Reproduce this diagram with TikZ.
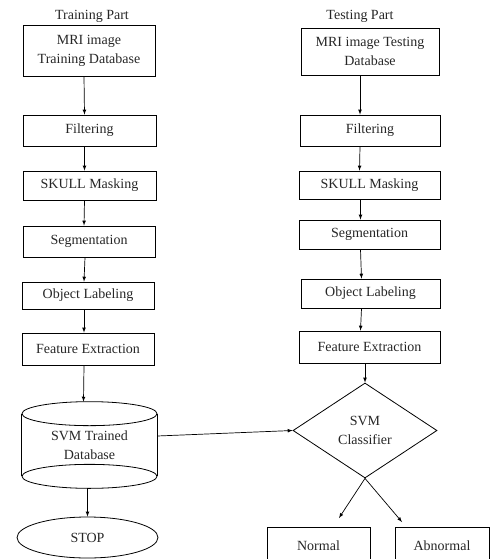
\documentclass[tikz,border=0pt]{standalone}
\usepackage{fontspec}
\setmainfont{Liberation Serif}
\usetikzlibrary{shapes.geometric}
\begin{document}
\begin{tikzpicture}[->,>=latex,x=1pt,y=-1pt,line width=0.7pt,font=\fontsize{14}{19}\selectfont,text=black!85]
\tikzset{Box/.style = {draw,-,rectangle,line width=0.8pt,inner sep=0pt,align=center}}
\useasboundingbox (0,0) rectangle (490,559);
% training part
\node(tp) at (92,16) {Training Part};
\node[Box,minimum width=132,minimum height=51](mri1) at (89,50.5) {MRI image\\Training Database};
\node[Box,minimum width=133,minimum height=31](fil1) at (89.5,130.5) {Filtering};
\node[Box,minimum width=133,minimum height=29](sku1) at (89.5,185.5) {SKULL Masking};
\node[Box,minimum width=132,minimum height=31](seg1) at (89,241.5) {Segmentation};
\node[Box,minimum width=132,minimum height=27](obj1) at (88,295.5) {Object Labeling};
\node[Box,minimum width=132,minimum height=32](fea1) at (88,349) {Feature Extraction};
\node[align=center,inner sep=0pt,minimum width=135,minimum height=86](db) at (89.5,445) {SVM Trained\\Database};
\draw[-,line width=0.8pt] ([yshift=-12pt]db.north) ellipse [x radius=67.5pt,y radius=12pt];
\draw[-,line width=0.8pt] ([yshift=12pt]db.south) ellipse [x radius=67.5pt,y radius=12pt];
\draw[-,line width=0.8pt] ([yshift=-12pt]db.north west) -- ([yshift=12pt]db.south west);
\draw[-,line width=0.8pt] ([yshift=-12pt]db.north east) -- ([yshift=12pt]db.south east);
\node[Box,ellipse,minimum width=141,minimum height=41](stop) at (87.5,537.5) {STOP};
% testing part
\node(tsp) at (360,16) {Testing Part};
\node[Box,minimum width=138,minimum height=47](mri2) at (370,51.5) {MRI image Testing\\Database};
\node[Box,minimum width=140,minimum height=31](fil2) at (370,130.5) {Filtering};
\node[Box,minimum width=141,minimum height=28](sku2) at (369.5,185) {SKULL Masking};
\node[Box,minimum width=141,minimum height=29](seg2) at (369.5,234.5) {Segmentation};
\node[Box,minimum width=139,minimum height=29](obj2) at (370.5,293.5) {Object Labeling};
\node[Box,minimum width=141,minimum height=32](fea2) at (369.5,347) {Feature Extraction};
\node[Box,diamond,minimum width=144,minimum height=95](clf) at (365,430.5) {SVM\\Classifier};
\node[Box,minimum width=103,minimum height=38](nor) at (318.5,546) {Normal};
\node[Box,minimum width=94,minimum height=38](abn) at (442,546) {Abnormal};
\coordinate(nend) at (339,518); \coordinate(aend) at (402,522);
% arrows
\draw[->] ([xshift=-5pt]mri1.south) -> ([xshift=-5pt]fil1.north);
\draw[->] ([xshift=-5pt]fil1.south) -> ([xshift=-5pt]sku1.north);
\draw[->] ([xshift=-5pt]sku1.south) -> ([xshift=-5pt]seg1.north);
\draw[->] ([xshift=-4pt]seg1.south) -> ([xshift=-4pt]obj1.north);
\draw[->] ([xshift=-4pt]obj1.south) -> ([xshift=-4pt]fea1.north);
\draw[->] ([xshift=-4pt]fea1.south) -> ([xshift=-6pt]db.north);
\draw[->] ([xshift=-2pt]db.south) -> ([xshift=0pt]stop.north);
\draw[->] ([xshift=-10pt]mri2.south) -> ([xshift=-10pt]fil2.north);
\draw[->] ([xshift=-10pt]fil2.south) -> ([xshift=-10pt]sku2.north);
\draw[->] ([xshift=-9pt]sku2.south) -> ([xshift=-9pt]seg2.north);
\draw[->] ([xshift=-9pt]seg2.south) -> ([xshift=-9pt]obj2.north);
\draw[->] ([xshift=-9pt]obj2.south) -> ([xshift=-9pt]fea2.north);
\draw[->] (fea2.south -| clf.north) -> (clf.north);
\draw[->] ([yshift=9pt]db.east) -> (clf.west);
\draw[->] (clf.south) -> (nend);
\draw[->] (clf.south) -> (aend);
\end{tikzpicture}
\end{document}
